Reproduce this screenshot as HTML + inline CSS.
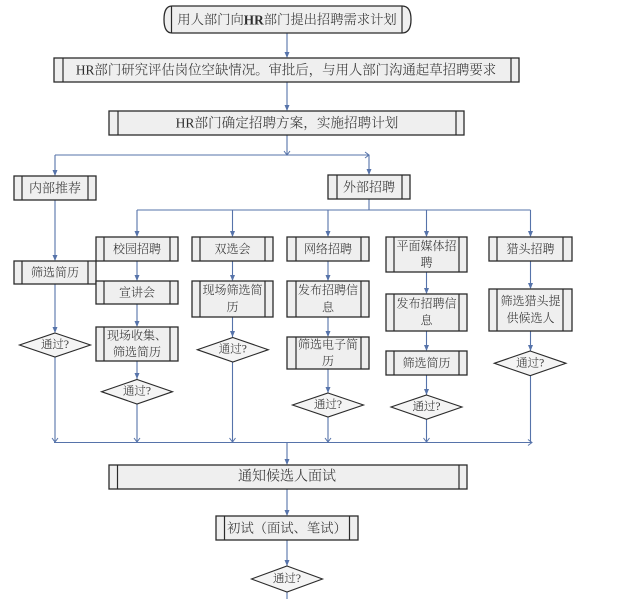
<!DOCTYPE html>
<html><head><meta charset="utf-8"><style>
html,body{margin:0;padding:0;background:#fff;}
svg{display:block;}
text{font-family:"Liberation Serif","Noto Serif CJK SC",serif;font-weight:300;fill:#2e2e2e;text-anchor:middle;dominant-baseline:central;}
.b{fill:#efefef;stroke:#2b2b2b;stroke-width:1.3;}
.i{stroke:#2b2b2b;stroke-width:1.2;}
.c{stroke:#5673aa;stroke-width:1.1;fill:none;}
.a{fill:#5673aa;}
.d{fill:#f4f4f4;stroke:#2b2b2b;stroke-width:1.1;}
.o{stroke:#5673aa;stroke-width:1;fill:none;}
</style></head><body>
<svg width="627" height="599" viewBox="0 0 627 599" xmlns="http://www.w3.org/2000/svg">
<!-- connectors -->
<g class="c">
<line x1="287" y1="33" x2="287" y2="57"/>
<line x1="287" y1="82" x2="287" y2="110"/>
<line x1="287" y1="135" x2="287" y2="155"/>
<line x1="55" y1="155" x2="369" y2="155"/>
<line x1="55" y1="155" x2="55" y2="175"/>
<line x1="369" y1="155" x2="369" y2="174"/>
<line x1="55" y1="200" x2="55" y2="260"/>
<line x1="55" y1="284" x2="55" y2="332"/>
<line x1="55" y1="357" x2="55" y2="442"/>
<line x1="369" y1="199" x2="369" y2="210"/>
<line x1="137" y1="210" x2="530.5" y2="210"/>
<line x1="137" y1="210" x2="137" y2="236"/>
<line x1="232.5" y1="210" x2="232.5" y2="236"/>
<line x1="328" y1="210" x2="328" y2="236"/>
<line x1="426.5" y1="210" x2="426.5" y2="236"/>
<line x1="530.5" y1="210" x2="530.5" y2="236"/>
<line x1="137" y1="261" x2="137" y2="280"/>
<line x1="137" y1="304" x2="137" y2="326"/>
<line x1="137" y1="361" x2="137" y2="379"/>
<line x1="137" y1="404" x2="137" y2="442"/>
<line x1="232.5" y1="261" x2="232.5" y2="280"/>
<line x1="232.5" y1="317" x2="232.5" y2="337"/>
<line x1="232.5" y1="362" x2="232.5" y2="442"/>
<line x1="328" y1="261" x2="328" y2="280"/>
<line x1="328" y1="317" x2="328" y2="336"/>
<line x1="328" y1="369" x2="328" y2="393"/>
<line x1="328" y1="417" x2="328" y2="442"/>
<line x1="426.5" y1="272" x2="426.5" y2="293"/>
<line x1="426.5" y1="331" x2="426.5" y2="350"/>
<line x1="426.5" y1="375" x2="426.5" y2="395"/>
<line x1="426.5" y1="419" x2="426.5" y2="442"/>
<line x1="530.5" y1="261" x2="530.5" y2="288"/>
<line x1="530.5" y1="331" x2="530.5" y2="351"/>
<line x1="530.5" y1="376" x2="530.5" y2="442"/>
<line x1="54" y1="442.5" x2="532" y2="442.5"/>
<line x1="287" y1="442" x2="287" y2="464"/>
<line x1="287" y1="489" x2="287" y2="515"/>
<line x1="287" y1="540" x2="287" y2="566"/>
<line x1="287" y1="592" x2="287" y2="599"/>
</g>
<g class="a">
<polygon points="284.5,52 289.5,52 287,58"/>
<polygon points="284.5,105 289.5,105 287,111"/>
<polygon points="52.5,170 57.5,170 55,176"/>
<polygon points="366.5,169 371.5,169 369,175"/>
<polygon points="52.5,255 57.5,255 55,261"/>
<polygon points="52.5,327 57.5,327 55,333"/>
<polygon points="134.5,231 139.5,231 137,237"/>
<polygon points="230,231 235,231 232.5,237"/>
<polygon points="325.5,231 330.5,231 328,237"/>
<polygon points="424,231 429,231 426.5,237"/>
<polygon points="528,231 533,231 530.5,237"/>
<polygon points="134.5,275 139.5,275 137,281"/>
<polygon points="134.5,321 139.5,321 137,327"/>
<polygon points="134.5,373 139.5,373 137,379"/>
<polygon points="230,275 235,275 232.5,281"/>
<polygon points="230,331 235,331 232.5,337"/>
<polygon points="325.5,275 330.5,275 328,281"/>
<polygon points="325.5,331 330.5,331 328,337"/>
<polygon points="325.5,387 330.5,387 328,393"/>
<polygon points="424,288 429,288 426.5,294"/>
<polygon points="424,345 429,345 426.5,351"/>
<polygon points="424,389 429,389 426.5,395"/>
<polygon points="528,283 533,283 530.5,289"/>
<polygon points="528,345 533,345 530.5,351"/>
<polygon points="284.5,459 289.5,459 287,465"/>
<polygon points="284.5,510 289.5,510 287,516"/>
<polygon points="284.5,560 289.5,560 287,566"/>
</g>
<g class="o">
<polyline points="284,151 287,155 290,151"/>
<polyline points="365,152 369,155 365,158"/>
<polyline points="52,438 55,442 58,438"/>
<polyline points="134,438 137,442 140,438"/>
<polyline points="229.5,438 232.5,442 235.5,438"/>
<polyline points="325,438 328,442 331,438"/>
<polyline points="423.5,438 426.5,442 429.5,438"/>
<polyline points="528,439.5 532,442.5 528,445.5"/>
</g>

<path class="b" d="M172,6 H402 Q411,6 411,19.5 Q411,33 402,33 H172 Q164,33 164,19.5 Q164,6 172,6 Z"/>
<line class="i" x1="171.5" y1="6" x2="171.5" y2="33"/>
<line class="i" x1="402" y1="6" x2="402" y2="33"/>
<text x="287" y="19.5" font-size="13.3">用人部门向<tspan font-weight="bold">HR</tspan>部门提出招聘需求计划</text>

<rect class="b" x="54" y="58" width="465" height="24"/>
<line class="i" x1="63" y1="58" x2="63" y2="82"/><line class="i" x1="511" y1="58" x2="511" y2="82"/>
<text x="286" y="70" font-size="13.4">HR部门研究评估岗位空缺情况。审批后，与用人部门沟通起草招聘要求</text>

<rect class="b" x="109" y="111" width="355" height="24"/>
<line class="i" x1="118" y1="111" x2="118" y2="135"/><line class="i" x1="456" y1="111" x2="456" y2="135"/>
<text x="287" y="123" font-size="13.6">HR部门确定招聘方案，实施招聘计划</text>

<rect class="b" x="14" y="176" width="82" height="24"/>
<line class="i" x1="22" y1="176" x2="22" y2="200"/><line class="i" x1="88" y1="176" x2="88" y2="200"/>
<text x="55" y="188" font-size="13">内部推荐</text>
<rect class="b" x="328" y="175" width="82" height="24"/>
<line class="i" x1="337" y1="175" x2="337" y2="199"/><line class="i" x1="402" y1="175" x2="402" y2="199"/>
<text x="369" y="187" font-size="13">外部招聘</text>

<rect class="b" x="14" y="261" width="82" height="23"/>
<line class="i" x1="22" y1="261" x2="22" y2="284"/><line class="i" x1="88" y1="261" x2="88" y2="284"/>
<text x="55" y="272.5" font-size="12">筛选简历</text>
<polygon class="d" points="55,333 90.5,345 55,357 19.5,345"/>
<text x="55" y="345" font-size="11.5">通过?</text>

<rect class="b" x="96" y="237" width="82" height="24"/>
<line class="i" x1="104" y1="237" x2="104" y2="261"/><line class="i" x1="170" y1="237" x2="170" y2="261"/>
<text x="137" y="249" font-size="12">校园招聘</text>
<rect class="b" x="96" y="281" width="82" height="23"/>
<line class="i" x1="104" y1="281" x2="104" y2="304"/><line class="i" x1="170" y1="281" x2="170" y2="304"/>
<text x="137" y="292.5" font-size="12">宣讲会</text>
<rect class="b" x="96" y="327" width="82" height="34"/>
<line class="i" x1="104" y1="327" x2="104" y2="361"/><line class="i" x1="170" y1="327" x2="170" y2="361"/>
<text x="137" y="335.5" font-size="12">现场收集、</text>
<text x="137" y="352" font-size="12">筛选简历</text>
<polygon class="d" points="137,379.5 172.5,391.7 137,404 101.5,391.7"/>
<text x="137" y="391.7" font-size="11.5">通过?</text>

<rect class="b" x="192" y="237" width="81" height="24"/>
<line class="i" x1="200" y1="237" x2="200" y2="261"/><line class="i" x1="265" y1="237" x2="265" y2="261"/>
<text x="232.5" y="249" font-size="12">双选会</text>
<rect class="b" x="192" y="281" width="81" height="36"/>
<line class="i" x1="200" y1="281" x2="200" y2="317"/><line class="i" x1="265" y1="281" x2="265" y2="317"/>
<text x="232.5" y="290" font-size="12">现场筛选简</text>
<text x="232.5" y="307" font-size="12">历</text>
<polygon class="d" points="232.8,337.5 268.3,349.7 232.8,362 197.3,349.7"/>
<text x="232.8" y="349.7" font-size="11.5">通过?</text>

<rect class="b" x="287" y="237" width="82" height="24"/>
<line class="i" x1="296" y1="237" x2="296" y2="261"/><line class="i" x1="361" y1="237" x2="361" y2="261"/>
<text x="328" y="249" font-size="12">网络招聘</text>
<rect class="b" x="287" y="281" width="82" height="36"/>
<line class="i" x1="296" y1="281" x2="296" y2="317"/><line class="i" x1="361" y1="281" x2="361" y2="317"/>
<text x="328" y="290" font-size="12">发布招聘信</text>
<text x="328" y="307.5" font-size="12">息</text>
<rect class="b" x="287" y="337" width="82" height="32"/>
<line class="i" x1="296" y1="337" x2="296" y2="369"/><line class="i" x1="361" y1="337" x2="361" y2="369"/>
<text x="328" y="344.5" font-size="12">筛选电子简</text>
<text x="328" y="361" font-size="12">历</text>
<polygon class="d" points="328,393 363.5,405 328,417 292.5,405"/>
<text x="328" y="405" font-size="11.5">通过?</text>

<rect class="b" x="386" y="237" width="81" height="35"/>
<line class="i" x1="394" y1="237" x2="394" y2="272"/><line class="i" x1="459" y1="237" x2="459" y2="272"/>
<text x="426.5" y="246" font-size="12">平面媒体招</text>
<text x="426.5" y="262.5" font-size="12">聘</text>
<rect class="b" x="386" y="294" width="81" height="37"/>
<line class="i" x1="394" y1="294" x2="394" y2="331"/><line class="i" x1="459" y1="294" x2="459" y2="331"/>
<text x="426.5" y="303.5" font-size="12">发布招聘信</text>
<text x="426.5" y="320.5" font-size="12">息</text>
<rect class="b" x="386" y="351" width="81" height="24"/>
<line class="i" x1="394" y1="351" x2="394" y2="375"/><line class="i" x1="459" y1="351" x2="459" y2="375"/>
<text x="426.5" y="363" font-size="12">筛选简历</text>
<polygon class="d" points="426.5,395 462,407 426.5,419.3 391,407"/>
<text x="426.5" y="407" font-size="11.5">通过?</text>

<rect class="b" x="489" y="237" width="83" height="24"/>
<line class="i" x1="497" y1="237" x2="497" y2="261"/><line class="i" x1="563" y1="237" x2="563" y2="261"/>
<text x="530.5" y="249" font-size="12">猎头招聘</text>
<rect class="b" x="489" y="289" width="83" height="42"/>
<line class="i" x1="497" y1="289" x2="497" y2="331"/><line class="i" x1="563" y1="289" x2="563" y2="331"/>
<text x="530.5" y="301" font-size="12">筛选猎头提</text>
<text x="530.5" y="318" font-size="12">供候选人</text>
<polygon class="d" points="530.2,351 566,363.3 530.2,375.7 494.3,363.3"/>
<text x="530.2" y="363.3" font-size="11.5">通过?</text>

<rect class="b" x="109" y="465" width="358" height="24"/>
<line class="i" x1="117.5" y1="465" x2="117.5" y2="489"/><line class="i" x1="459" y1="465" x2="459" y2="489"/>
<text x="287" y="477" font-size="14">通知候选人面试</text>
<rect class="b" x="216" y="516" width="142" height="24"/>
<line class="i" x1="224.5" y1="516" x2="224.5" y2="540"/><line class="i" x1="349.5" y1="516" x2="349.5" y2="540"/>
<text x="287" y="528" font-size="13.3">初试（面试、笔试）</text>
<polygon class="d" points="287,566 322.5,579 287,592 251.5,579"/>
<text x="287" y="579" font-size="11.5">通过?</text>
</svg>
</body></html>
